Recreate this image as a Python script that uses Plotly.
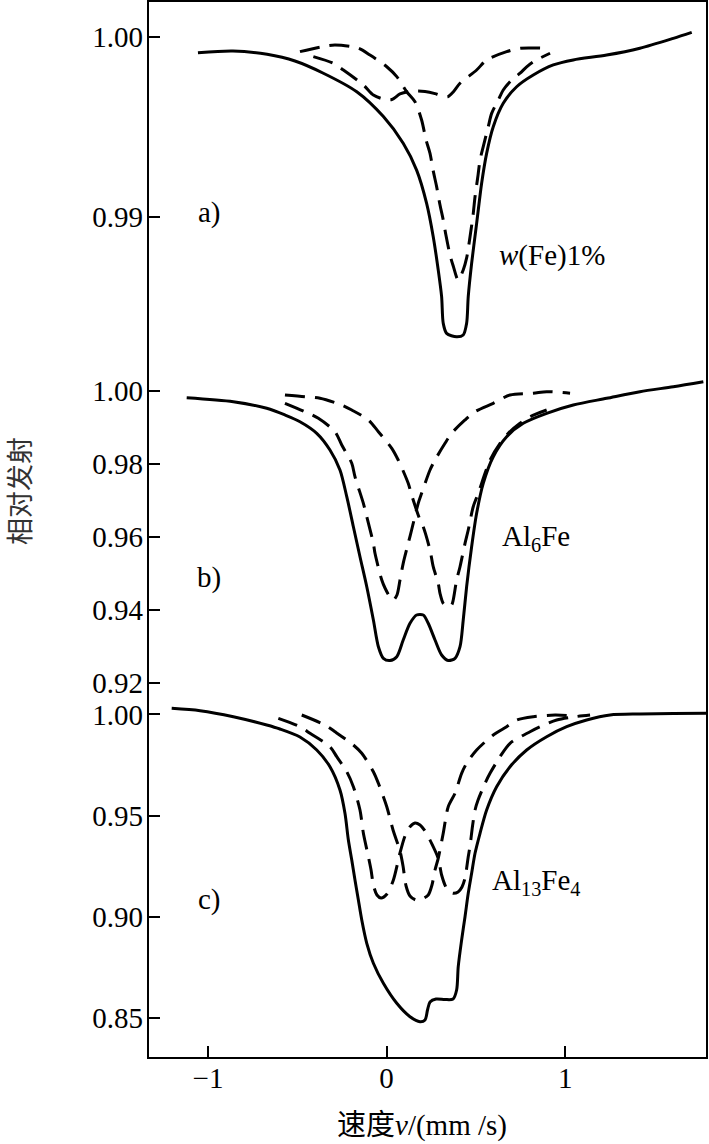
import plotly.graph_objects as go

# ---------------- data (velocity in mm/s, relative emission) ----------------
# Panel a) w(Fe)1%
a_solid_x = [-1.056, -0.860, -0.669, -0.513, -0.354, -0.167, -0.018, 0.093, 0.168, 0.224,
             0.261, 0.289, 0.308, 0.317, 0.336, 0.392, 0.429, 0.448, 0.457, 0.476,
             0.504, 0.532, 0.560, 0.597, 0.653, 0.728, 0.821, 0.933, 1.045, 1.232,
             1.418, 1.605, 1.708]
a_solid_y = [0.99911, 0.99921, 0.99902, 0.99865, 0.99797, 0.99694, 0.99556, 0.99408, 0.99259, 0.99074,
             0.98889, 0.98704, 0.98556, 0.98408, 0.98352, 0.98333, 0.98343, 0.98408, 0.98556, 0.98741,
             0.98963, 0.99186, 0.99352, 0.99500, 0.99630, 0.99722, 0.99787, 0.99843, 0.99871, 0.99898,
             0.99936, 0.99991, 1.00024]

a_dash1_x = [-0.485, -0.363, -0.289, -0.158, -0.093, 0.001, 0.057, 0.113, 0.159, 0.196,
             0.221, 0.243, 0.260, 0.280, 0.299, 0.317, 0.332, 0.355, 0.373, 0.401,
             0.429, 0.448, 0.467, 0.484, 0.495, 0.512, 0.523, 0.541, 0.569, 0.588,
             0.625, 0.653, 0.700, 0.747, 0.784, 0.821, 0.915]
a_dash1_y = [0.99917, 0.99944, 0.99954, 0.99936, 0.99898, 0.99833, 0.99778, 0.99694, 0.99639, 0.99537,
             0.99426, 0.99352, 0.99259, 0.99167, 0.99065, 0.98982, 0.98898, 0.98787, 0.98726, 0.98648,
             0.98704, 0.98771, 0.98889, 0.99009, 0.99111, 0.99232, 0.99315, 0.99389, 0.99500, 0.99574,
             0.99648, 0.99704, 0.99759, 0.99797, 0.99833, 0.99861, 0.99908]

a_dash2_x = [-0.410, -0.298, -0.242, -0.130, -0.074, -0.020, 0.030, 0.075, 0.131, 0.215,
             0.271, 0.316, 0.344, 0.373, 0.411, 0.504, 0.560, 0.672, 0.747, 0.877]
a_dash2_y = [0.99889, 0.99852, 0.99815, 0.99732, 0.99676, 0.99654, 0.99651, 0.99682, 0.99696, 0.99696,
             0.99684, 0.99668, 0.99667, 0.99693, 0.99741, 0.99815, 0.99871, 0.99917, 0.99936, 0.99936]

# Panel b) Al6Fe
b_solid_x = [-1.119, -0.858, -0.671, -0.569, -0.485, -0.391, -0.317, -0.261, -0.223, -0.186,
             -0.149, -0.111, -0.074, -0.046, -0.018, 0.019, 0.057, 0.093, 0.131, 0.168,
             0.205, 0.233, 0.271, 0.308, 0.345, 0.383, 0.411, 0.429, 0.448, 0.476,
             0.504, 0.541, 0.597, 0.672, 0.765, 0.896, 1.045, 1.232, 1.418, 1.605, 1.773]
b_solid_y = [0.99805, 0.99696, 0.99515, 0.99332, 0.99148, 0.98830, 0.98373, 0.97825, 0.97093, 0.96271,
             0.95449, 0.94627, 0.93715, 0.92984, 0.92666, 0.92605, 0.92710, 0.93167, 0.93625, 0.93852,
             0.93852, 0.93625, 0.93167, 0.92756, 0.92605, 0.92666, 0.92984, 0.93715, 0.94627, 0.95723,
             0.96638, 0.97460, 0.98189, 0.98737, 0.99104, 0.99378, 0.99605, 0.99789, 0.99970, 1.00107, 1.00244]

b_dash1_x = [-0.569, -0.457, -0.382, -0.289, -0.251, -0.195, -0.177, -0.130, -0.111, -0.074,
             -0.065, -0.027, -0.009, 0.019, 0.038, 0.058, 0.075, 0.093, 0.121, 0.140,
             0.177, 0.196, 0.243, 0.271, 0.327, 0.364, 0.439, 0.495, 0.597, 0.691,
             0.821, 0.896, 1.027]
b_dash1_y = [0.99652, 0.99422, 0.99241, 0.98874, 0.98510, 0.98008, 0.97641, 0.96912, 0.96545, 0.95816,
             0.95542, 0.94811, 0.94592, 0.94345, 0.94263, 0.94400, 0.94811, 0.95268, 0.95816, 0.96181,
             0.96912, 0.97186, 0.97825, 0.98099, 0.98556, 0.98830, 0.99195, 0.99422, 0.99652, 0.99879,
             0.99926, 0.99970, 0.99926]

b_dash2_x = [-0.569, -0.457, -0.373, -0.251, -0.195, -0.102, -0.046, 0.029, 0.065, 0.121,
             0.140, 0.187, 0.205, 0.243, 0.261, 0.289, 0.299, 0.317, 0.344, 0.364,
             0.373, 0.392, 0.411, 0.439, 0.457, 0.485, 0.513, 0.551, 0.579, 0.635,
             0.681, 0.747, 0.803, 0.896]
b_dash2_y = [0.99879, 0.99833, 0.99789, 0.99605, 0.99468, 0.99195, 0.98874, 0.98419, 0.98099, 0.97460,
             0.97140, 0.96455, 0.96271, 0.95633, 0.95175, 0.94720, 0.94447, 0.94173, 0.94079, 0.94126,
             0.94263, 0.94811, 0.95175, 0.95816, 0.96181, 0.96819, 0.97186, 0.97734, 0.98099, 0.98556,
             0.98830, 0.99104, 0.99285, 0.99468]

# Panel c) Al13Fe4
c_solid_x = [-1.203, -1.044, -0.858, -0.671, -0.597, -0.485, -0.391, -0.317, -0.261, -0.233,
             -0.214, -0.195, -0.177, -0.158, -0.139, -0.111, -0.074, -0.018, 0.057, 0.131,
             0.187, 0.215, 0.229, 0.243, 0.277, 0.327, 0.372, 0.392, 0.401, 0.420,
             0.439, 0.457, 0.476, 0.495, 0.523, 0.560, 0.616, 0.691, 0.784, 0.896,
             1.008, 1.120, 1.251, 1.418, 1.605, 1.792]
c_solid_y = [1.00301, 1.00183, 0.99886, 0.99476, 0.99279, 0.98883, 0.98241, 0.97416, 0.96265, 0.95114,
             0.93794, 0.92806, 0.91818, 0.90830, 0.89842, 0.88691, 0.87703, 0.86714, 0.85726, 0.85064,
             0.84817, 0.84901, 0.85395, 0.85790, 0.85939, 0.85914, 0.85939, 0.86383, 0.87535, 0.88854,
             0.90005, 0.91161, 0.92149, 0.93137, 0.94126, 0.95277, 0.96428, 0.97416, 0.98241, 0.98898,
             0.99392, 0.99723, 0.99970, 1.00020, 1.00045, 1.00054]

c_dash1_x = [-0.606, -0.485, -0.429, -0.317, -0.279, -0.223, -0.186, -0.149, -0.130, -0.102,
             -0.087, -0.074, -0.054, -0.031, 0.002, 0.038, 0.075, 0.103, 0.131, 0.159,
             0.187, 0.215, 0.252, 0.289, 0.308, 0.332, 0.355, 0.373, 0.400, 0.422,
             0.439, 0.457, 0.467, 0.481, 0.495, 0.512, 0.551, 0.579, 0.635, 0.691,
             0.803, 0.859, 0.952, 1.055, 1.139]
c_dash1_y = [0.99807, 0.99392, 0.99066, 0.98404, 0.97910, 0.97169, 0.96428, 0.95277, 0.94126, 0.92969,
             0.92312, 0.91571, 0.91077, 0.90929, 0.91126, 0.91818, 0.93152, 0.93992, 0.94452, 0.94634,
             0.94536, 0.94239, 0.93631, 0.92890, 0.92065, 0.91472, 0.91225, 0.91161, 0.91225, 0.91472,
             0.91917, 0.92969, 0.93498, 0.94486, 0.95277, 0.95771, 0.96596, 0.97090, 0.97910, 0.98572,
             0.99145, 0.99392, 0.99723, 0.99886, 0.99970]

c_dash2_x = [-0.475, -0.345, -0.289, -0.186, -0.139, -0.074, -0.046, 0.001, 0.036, 0.075,
             0.092, 0.109, 0.131, 0.165, 0.198, 0.233, 0.254, 0.271, 0.289, 0.317,
             0.345, 0.383, 0.420, 0.448, 0.504, 0.597, 0.672, 0.728, 0.821, 0.943, 1.055]
c_dash2_y = [0.99970, 0.99476, 0.99145, 0.98488, 0.98078, 0.97169, 0.96596, 0.95440, 0.94289, 0.93251,
             0.92510, 0.91522, 0.91028, 0.90830, 0.90880, 0.91077, 0.91571, 0.92312, 0.92890, 0.94126,
             0.95440, 0.96102, 0.97090, 0.97584, 0.98241, 0.98982, 0.99392, 0.99723, 0.99886, 0.99970, 0.99921]

# ticks
x_ticks = [-1, 0, 1]
x_ticktext = ["\u22121", "0", "1"]
a_ticks = [1.00, 0.99]
b_ticks = [1.00, 0.98, 0.96, 0.94, 0.92]
c_ticks = [1.00, 0.95, 0.90, 0.85]

# ---------------- figure ----------------
SERIF = "Liberation Serif, Times New Roman, serif"
CJK = "Liberation Serif, Noto Sans CJK SC, serif"
FS = 29
LW = 3
DASH = "20px,10px"

fig = go.Figure()

def add(x, y, yax, dashed):
    fig.add_trace(go.Scatter(
        x=x, y=y, xaxis="x", yaxis=yax, mode="lines",
        line=dict(color="black", width=LW, dash=DASH if dashed else "solid",
                  shape="spline", smoothing=0.8),
        showlegend=False, hoverinfo="skip"))

add(a_solid_x, a_solid_y, "y", False)
add(a_dash1_x, a_dash1_y, "y", True)
add(a_dash2_x, a_dash2_y, "y", True)
add(b_solid_x, b_solid_y, "y2", False)
add(b_dash1_x, b_dash1_y, "y2", True)
add(b_dash2_x, b_dash2_y, "y2", True)
add(c_solid_x, c_solid_y, "y3", False)
add(c_dash1_x, c_dash1_y, "y3", True)
add(c_dash2_x, c_dash2_y, "y3", True)

yaxis_common = dict(ticks="inside", ticklen=12, tickwidth=2, tickcolor="black",
                    showgrid=False, zeroline=False, showline=False, anchor="x",
                    tickformat=".2f", tickfont=dict(family=SERIF, size=FS, color="black"),
                    ticklabelstandoff=4)

fig.update_layout(
    width=709, height=1144,
    margin=dict(l=148, r=2, t=1, b=86, autoexpand=False),
    paper_bgcolor="white", plot_bgcolor="white",
    xaxis=dict(domain=[0, 1], anchor="y3", range=[-1.3356, 1.7935],
               tickvals=x_ticks, ticktext=x_ticktext,
               ticks="inside", ticklen=12, tickwidth=2, tickcolor="black",
               showgrid=False, zeroline=False, showline=False,
               tickfont=dict(family=SERIF, size=FS, color="black")),
    yaxis=dict(domain=[0.64617, 1.0], range=[0.981206, 1.001983], tickvals=a_ticks, **yaxis_common),
    yaxis2=dict(domain=[0.34153, 0.64617], range=[0.916055, 1.004274], tickvals=b_ticks, **yaxis_common),
    yaxis3=dict(domain=[0.0, 0.34153], range=[0.830237, 1.008597], tickvals=c_ticks, **yaxis_common),
    shapes=[dict(type="rect", xref="paper", yref="paper", x0=0, x1=1, y0=0, y1=1,
                 line=dict(color="black", width=2), layer="above")],
)

ann_font = dict(family=SERIF, size=FS, color="black")
annotations = [
    dict(text="a)", x=-0.994, y=0.99021, xref="x", yref="y", showarrow=False, font=ann_font,
         xanchor="center", yanchor="middle"),
    dict(text="b)", x=-0.994, y=0.94893, xref="x", yref="y2", showarrow=False, font=ann_font,
         xanchor="center", yanchor="middle"),
    dict(text="c)", x=-0.994, y=0.90879, xref="x", yref="y3", showarrow=False, font=ann_font,
         xanchor="center", yanchor="middle"),
    dict(text="<i>w</i>(Fe)1%", x=0.618, y=0.98782, xref="x", yref="y", xanchor="left",
         yanchor="middle", showarrow=False, font=ann_font),
    dict(text="Al<sub>6</sub>Fe", x=0.635, y=0.95948, xref="x", yref="y2", xanchor="left",
         yanchor="middle", showarrow=False, font=ann_font),
    dict(text="Al<sub>13</sub>Fe<sub>4</sub>", x=0.579, y=0.91719, xref="x", yref="y3", xanchor="left",
         yanchor="middle", showarrow=False, font=ann_font),
    dict(text="速度<i>v</i>/(mm /s)", x=0.4902, y=-0.0634, xref="paper", yref="paper",
         xanchor="center", yanchor="middle",
         showarrow=False, font=dict(family=CJK, size=FS, color="black")),
    dict(text="相对发射", x=-0.2326, y=0.5364, xref="paper", yref="paper", textangle=-90,
         xanchor="center", yanchor="middle",
         showarrow=False, font=dict(family="Noto Sans CJK SC", size=27, color="#333")),
]
fig.update_layout(annotations=annotations)

fig.write_html("out.html", config={"displayModeBar": False},
               post_script="document.body.style.margin='0';document.body.style.overflow='hidden';")
